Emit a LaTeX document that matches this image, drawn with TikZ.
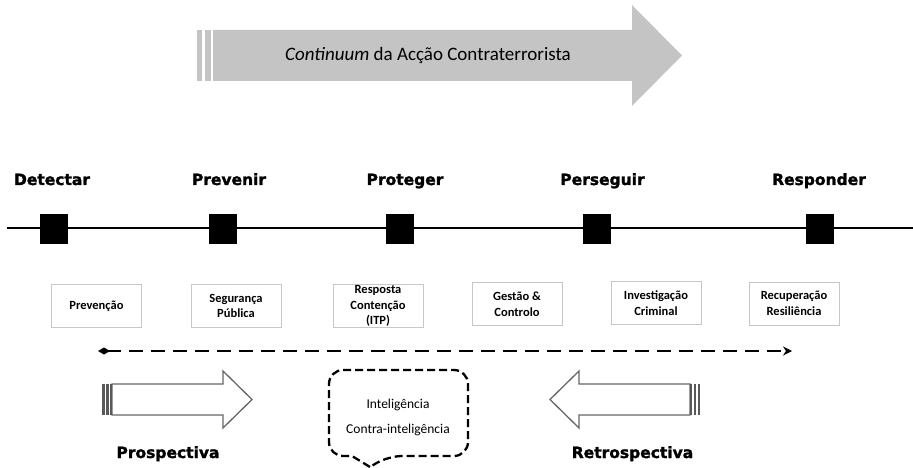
\documentclass[tikz,border=0pt]{standalone}
\usepackage{fontspec}
\setmainfont{Carlito}
\newfontfamily\headfont[BoldFeatures={FakeBold=1.6}]{DejaVu Sans}
\usetikzlibrary{arrows.meta}

\tikzset{
  stage/.style={anchor=base, inner sep=0pt, font=\headfont\bfseries\fontsize{15.5}{18}\selectfont},
  sqr/.style={fill=black, minimum width=28pt, minimum height=30pt, inner sep=0pt},
  actbox/.style={draw=black!22, fill=white, minimum width=90pt, minimum height=43pt, inner sep=1pt, align=center, font=\bfseries\fontsize{12.5}{15.5}\selectfont},
  hollow/.style={draw=black!60, line width=1.3pt, fill=white},
  stripe/.style={fill=black!65},
}

\begin{document}
\begin{tikzpicture}[x=1pt,y=-1pt]

\useasboundingbox (0,0) rectangle (913,468);
%\draw[step=50,gray,very thin] (0,0) grid (913,468);

% top arrow
\fill[black!23] (213,30) -- (632,30) -- (632,5) -- (682,55.5) -- (632,106) -- (632,81) -- (213,81) -- cycle;
\fill[black!23] (197,30) rectangle (202,81);
\fill[black!23] (205,30) rectangle (211,81);
\node (title) at (428,56) {\fontsize{19}{22}\selectfont\textit{Continuum} da Acção Contraterrorista};

% timeline
\coordinate (tleft) at (7,228);
\coordinate (tright) at (913,228);
\draw[line width=1.6pt] (tleft) -- (tright);

\node[sqr] (sq1) at (54,229) {};
\node[sqr] (sq2) at (223,229) {};
\node[sqr] (sq3) at (400,229) {};
\node[sqr] (sq4) at (597,229) {};
\node[sqr] (sq5) at (819.5,229) {};

\node[stage] (detectar) at (52,185) {Detectar};
\node[stage] (prevenir) at (229,185) {Prevenir};
\node[stage] (proteger) at (405,185) {Proteger};
\node[stage] (perseguir) at (602.5,185) {Perseguir};
\node[stage] (responder) at (819,185) {Responder};

% boxes
\node[actbox] (prevencao) at (96.5,306) {Prevenção};
\node[actbox] (seguranca) at (236,306) {Segurança\\Pública};
\node[actbox] (resposta) at (378,306) {Resposta\\Contenção\\(ITP)};
\node[actbox] (gestao) at (517,304) {Gestão \&\\Controlo};
\node[actbox] (investigacao) at (656,303) {Investigação\\Criminal};
\node[actbox] (recuperacao) at (794,303.5) {Recuperação\\Resiliência};

% dashed arrow
\coordinate (dleft) at (98,351);
\coordinate (dright) at (792,351);
\draw[line width=2.8pt, dash pattern=on 14pt off 8pt, {Diamond[length=12pt,width=7pt]}-{Stealth[length=9pt,width=9pt]}] (dleft) -- (dright);

% prospectiva
\draw[hollow] (112,384) -- (223,384) -- (223,371) -- (252,399.5) -- (223,428) -- (223,415) -- (112,415) -- cycle;
\fill[stripe] (102,384) rectangle (104.5,415);
\fill[stripe] (106,384) rectangle (108.5,415);
\fill[stripe] (110,384) rectangle (112,415);
\node[stage] (prosp) at (168,458) {Prospectiva};

% retrospectiva
\draw[hollow] (690,384) -- (579,384) -- (579,371) -- (550,399.5) -- (579,428) -- (579,415) -- (690,415) -- cycle;
\fill[stripe] (690,384) rectangle (692,415);
\fill[stripe] (693.5,384) rectangle (696,415);
\fill[stripe] (697.5,384) rectangle (700,415);
\node[stage] (retro) at (632.5,458) {Retrospectiva};

% callout
\draw[line width=2.3pt, dash pattern=on 8pt off 4pt] (370,467) -- (352,456) [rounded corners=14pt] -- (329,456) -- (329,370) -- (468,370) -- (468,456) -- (388,456) [sharp corners] -- cycle;
\node[anchor=base, font=\fontsize{13.5}{16}\selectfont] (intel) at (398,408) {Inteligência};
\node[anchor=base, font=\fontsize{13.5}{16}\selectfont] (contra) at (398,433) {Contra-inteligência};

\end{tikzpicture}
\end{document}
